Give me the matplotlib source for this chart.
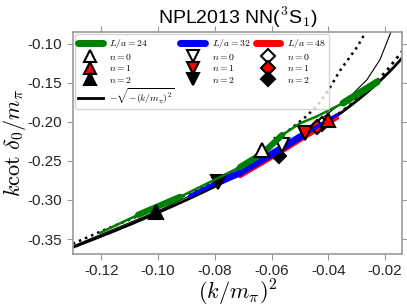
import numpy as np
import matplotlib
matplotlib.use("Agg")
import matplotlib.pyplot as plt
from matplotlib.lines import Line2D

plt.rcParams['mathtext.fontset'] = 'cm'
plt.rcParams['font.family'] = ['Liberation Sans', 'DejaVu Sans']

# ---- data ----
# L/a = 24 band (green)
g_x = [-0.1204, -0.1070, -0.0922, -0.0711, -0.0630, -0.0563, -0.0500, -0.0440, -0.0348, -0.0228]
g_y = [-0.342, -0.319, -0.296, -0.258, -0.240, -0.217, -0.202, -0.193, -0.176, -0.149]
g_w = [1.8, 4.5, 1.8, 4.5, 4.5, 1.8, 1.8, 1.8, 5]

# L/a = 32 band (blue)
b_x = [-0.0887, -0.0788, -0.0711, -0.0633, -0.0563, -0.0482, -0.0369]
b_y = [-0.2949, -0.2769, -0.2654, -0.2487, -0.2333, -0.2154, -0.1910]
b_w = [3, 5, 4.5, 5, 5, 2.5]

# L/a = 48 band (red)
r_x = [-0.0711, -0.0633, -0.0563, -0.0482, -0.0369]
r_y = [-0.2695, -0.2530, -0.2380, -0.2195, -0.1950]
r_w = [3, 3, 3, 3]

# fitted curves
steep_x = [-0.130, -0.120, -0.100, -0.080, -0.065, -0.055, -0.0475, -0.0436, -0.0401, -0.0359, -0.030, -0.0263]
steep_y = [-0.356, -0.340, -0.310, -0.276, -0.245, -0.214, -0.1923, -0.178, -0.1603, -0.1346, -0.105, -0.082]
thin_x = [-0.130, -0.100, -0.070, -0.050, -0.0384, -0.0324, -0.0264, -0.0218, -0.0176]
thin_y = [-0.359, -0.314, -0.262, -0.218, -0.1846, -0.1679, -0.1462, -0.1205, -0.082]
dot_x = [-0.045, -0.035, -0.030, -0.025, -0.020, -0.014]
dot_y = [-0.212, -0.186, -0.1718, -0.155, -0.137, -0.110]

# energy levels: (x, y) for n = 0, 1, 2
lv24_x = [-0.0633, -0.0401, -0.1006]
lv24_y = [-0.2359, -0.1974, -0.3154]
lv32_x = [-0.0563, -0.0482, -0.0788]
lv32_y = [-0.2295, -0.2141, -0.2769]
lv48_x = [-0.0422, -0.0440, -0.0573]
lv48_y = [-0.2026, -0.2064, -0.2436]

fig = plt.figure(figsize=(4.07, 3.07), dpi=100)
ax = fig.add_axes([0.179, 0.173, 0.809, 0.723])

# bound state curve
xs = np.linspace(-0.13, -0.014, 200)
ax.plot(xs, -np.sqrt(-xs), 'k-', lw=2, zorder=2)
ax.plot(steep_x, steep_y, 'k:', lw=1.8, zorder=2)
ax.plot(thin_x, thin_y, 'k-', lw=0.8, zorder=2)
ax.plot(dot_x, dot_y, 'k:', lw=2, zorder=2)


def band(x, y, w, c):
    for i in range(len(w)):
        ax.plot(x[i:i + 2], y[i:i + 2], '-', color=c, lw=w[i],
                solid_capstyle='round', zorder=3)


fills = ['white', 'red', 'black']

# drawn from the largest box down, later bands cover earlier markers
band(r_x, r_y, r_w, 'red')
for n in range(3):
    ax.plot(lv48_x[n], lv48_y[n], 'D', ms=7, mfc=fills[n], mec='k', mew=1.5, zorder=3)
band(b_x, b_y, b_w, 'blue')
for n in range(3):
    ax.plot(lv32_x[n], lv32_y[n], 'v', ms=10, mfc=fills[n], mec='k', mew=1.5, zorder=3)
band(g_x, g_y, g_w, 'green')
for n in range(3):
    ax.plot(lv24_x[n], lv24_y[n], '^', ms=10, mfc=fills[n], mec='k', mew=1.5, zorder=3)

ax.set_xlim(-0.13, -0.014)
ax.set_ylim(-0.369, -0.085)
ax.set_xticks([-0.12, -0.10, -0.08, -0.06, -0.04, -0.02])
ax.set_yticks([-0.35, -0.30, -0.25, -0.20, -0.15, -0.10])
ax.xaxis.set_major_formatter(matplotlib.ticker.FormatStrFormatter('%.2f'))
ax.yaxis.set_major_formatter(matplotlib.ticker.FormatStrFormatter('%.2f'))
ax.tick_params(top=True, right=True, direction='out', length=4, color='#999999',
               labelsize=11, labelcolor='#262626')
for s in ax.spines.values():
    s.set_color('#999999')
    s.set_linewidth(1.2)

ax.set_title('NPL2013 NN($^3$S$_1$)', fontsize=14, pad=6)
ax.set_xlabel(r'$(k/m_\pi)^2$', fontsize=16, labelpad=0)
ax.set_ylabel(r'$k\cot\,\delta_0/m_\pi$', fontsize=16, labelpad=0)

lk = dict(ls='none', ms=9, mec='k', mew=1.5)
dk = dict(lk, ms=7)
handles = [
    Line2D([], [], color='green', lw=5, solid_capstyle='round'),
    Line2D([], [], marker='^', mfc='white', **lk),
    Line2D([], [], marker='^', mfc='red', **lk),
    Line2D([], [], marker='^', mfc='black', **lk),
    Line2D([], [], color='k', lw=2),
    Line2D([], [], color='blue', lw=5, solid_capstyle='round'),
    Line2D([], [], marker='v', mfc='white', **lk),
    Line2D([], [], marker='v', mfc='red', **lk),
    Line2D([], [], marker='v', mfc='black', **lk),
    Line2D([], [], color='red', lw=5, solid_capstyle='round'),
    Line2D([], [], marker='D', mfc='white', **dk),
    Line2D([], [], marker='D', mfc='red', **dk),
    Line2D([], [], marker='D', mfc='black', **dk),
]
labels = ['$L/a=24$', '$n=0$', '$n=1$', '$n=2$', r'$-\sqrt{-(k/m_\pi)^2}$',
          '$L/a=32$', '$n=0$', '$n=1$', '$n=2$',
          '$L/a=48$', '$n=0$', '$n=1$', '$n=2$']
ax.legend(handles, labels, ncol=3, loc='upper left', fontsize=7,
          handlelength=2.5, handletextpad=0.7, labelspacing=0.15,
          columnspacing=0.6, borderaxespad=0.2, borderpad=0.35,
          fancybox=True, framealpha=0.8)

fig.savefig('out.png', dpi=100)
